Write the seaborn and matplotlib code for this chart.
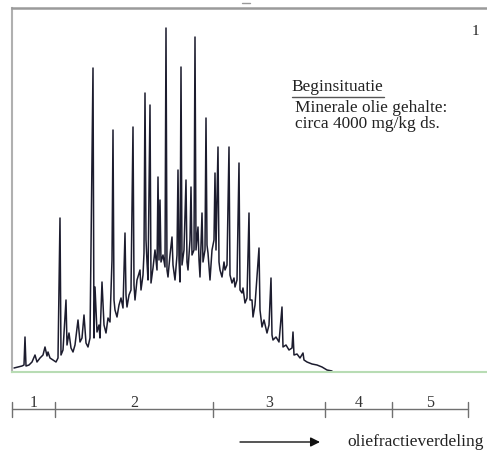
import matplotlib
matplotlib.use("Agg")
import matplotlib.pyplot as plt
from matplotlib.lines import Line2D
import seaborn as sns
import pandas as pd

# ---- data (retention position, detector signal) ----
retention = [14, 18, 22, 24, 25, 26, 29, 32, 35, 37, 40, 43, 45, 47, 48, 50, 53, 56, 58, 60,
             61, 63, 66, 67, 69, 71, 73, 75, 78, 80, 82, 84, 86, 88, 90, 93, 94, 95, 97, 99,
             100, 102, 104, 106, 108, 110, 112, 113, 114, 115, 117, 119, 121, 123, 125, 126, 127, 129, 131, 133,
             134, 135, 137, 140, 141, 143, 144, 145, 146, 147, 148, 150, 151, 153, 155, 157, 158, 159, 160, 161,
             163, 165, 166, 167, 168, 170, 172, 173, 175, 177, 178, 179, 180, 181, 182, 184, 186, 187, 188, 190,
             191, 192, 194, 195, 196, 198, 199, 200, 202, 203, 205, 206, 207, 208, 210, 212, 214, 215, 216, 218,
             219, 220, 222, 224, 225, 227, 229, 230, 232, 234, 235, 237, 239, 240, 242, 243, 245, 247, 249, 250,
             252, 253, 255, 258, 259, 260, 262, 264, 267, 269, 271, 272, 273, 276, 279, 282, 283, 286, 289, 292,
             293, 294, 297, 300, 303, 304, 307, 312, 317, 322, 327, 332]
signal = [3, 4, 5, 6, 34, 5, 6, 9, 16, 9, 13, 16, 24, 15, 19, 13, 11, 9, 13, 153,
          16, 21, 71, 26, 38, 23, 19, 26, 51, 29, 33, 56, 28, 24, 33, 303, 33, 84, 39, 46,
          33, 89, 46, 38, 53, 49, 111, 241, 71, 61, 54, 66, 73, 63, 138, 76, 64, 76, 81, 244,
          86, 71, 91, 101, 81, 96, 118, 278, 131, 109, 91, 266, 88, 103, 121, 101, 194, 111, 171, 109,
          116, 104, 343, 101, 94, 116, 134, 106, 91, 116, 201, 111, 89, 304, 106, 121, 191, 109, 101, 131,
          184, 116, 121, 334, 121, 144, 111, 94, 158, 109, 121, 253, 126, 118, 91, 121, 131, 198, 121, 224,
          109, 101, 94, 109, 101, 106, 224, 96, 88, 93, 84, 91, 208, 81, 78, 83, 68, 73, 158, 71,
          71, 54, 66, 108, 123, 61, 44, 51, 38, 46, 93, 36, 31, 34, 29, 64, 24, 26, 21, 23,
          39, 16, 17, 13, 18, 11, 9, 7, 6, 4, 1, 0]

fraction_labels = ["1", "2", "3", "4", "5"]
fraction_edges = [12, 55, 213, 325, 392, 468]

title_text = "Beginsituatie"
info_lines = ["Minerale olie gehalte:", "circa 4000 mg/kg ds."]
axis_text = "oliefractieverdeling"
corner_text = "1"

# ---- figure ----
sns.set_style("white")
plt.rcParams["font.family"] = ["Liberation Serif", "DejaVu Serif"]

W, H = 487, 451
fig = plt.figure(figsize=(W / 100, H / 100), dpi=100)
ax = fig.add_axes([12 / W, (H - 372) / H, (W - 12) / W, 364 / H])

df = pd.DataFrame({"ret": retention, "sig": signal})
sns.lineplot(data=df, x="ret", y="sig", ax=ax, sort=False, estimator=None,
             color="#1c1c2e", lw=1.1)

ax.set_xlim(12, 487)
ax.set_ylim(-1, 363)
ax.set_xticks([])
ax.set_yticks([])
ax.set_xlabel("")
ax.set_ylabel("")
ax.spines["right"].set_visible(False)
ax.spines["top"].set_color("#9a9a9a")
ax.spines["top"].set_linewidth(1.8)
ax.spines["left"].set_color("#b0b0b0")
ax.spines["left"].set_linewidth(1.5)
ax.spines["bottom"].set_color("#b8dcb4")
ax.spines["bottom"].set_linewidth(1.5)

# annotation texts
fs = 12.4
t = ax.text(0.589, 0.772, title_text, transform=ax.transAxes, fontsize=fs,
            ha="left", va="baseline", color="#222222")
ax.text(0.596, 0.714, info_lines[0], transform=ax.transAxes, fontsize=fs,
        ha="left", va="baseline", color="#222222")
ax.text(0.596, 0.671, info_lines[1], transform=ax.transAxes, fontsize=fs,
        ha="left", va="baseline", color="#222222")
ax.text(0.975, 0.926, corner_text, transform=ax.transAxes, fontsize=11,
        ha="center", va="baseline", color="#222222")

fig.canvas.draw()
bb = t.get_window_extent(fig.canvas.get_renderer()).transformed(ax.transAxes.inverted())
ax.add_line(Line2D([bb.x0, bb.x1], [0.755, 0.755], transform=ax.transAxes,
                   color="#555555", lw=1.0, clip_on=False))

# fraction scale below the chromatogram
trans = ax.get_xaxis_transform()
y_line = (372 - 409) / 364
y_t0 = (372 - 402) / 364
y_t1 = (372 - 417) / 364
ax.add_line(Line2D([fraction_edges[0], fraction_edges[-1]], [y_line, y_line],
                   transform=trans, color="#707070", lw=1.0, clip_on=False))
for e in fraction_edges:
    ax.add_line(Line2D([e, e], [y_t0, y_t1], transform=trans,
                       color="#707070", lw=1.0, clip_on=False))
y_lab = (372 - 407) / 364
for lab, a, b in zip(fraction_labels, fraction_edges[:-1], fraction_edges[1:]):
    ax.text((a + b) / 2, y_lab, lab, transform=trans, fontsize=11.5,
            ha="center", va="baseline", color="#333333", clip_on=False)

# arrow and axis description
y_arr = (372 - 442) / 364
ax.annotate("", xy=(320, y_arr), xytext=(240, y_arr), xycoords=trans, textcoords=trans,
            arrowprops=dict(arrowstyle="-|>", color="#111111", lw=1.0,
                            mutation_scale=14, shrinkA=0, shrinkB=0),
            annotation_clip=False)
ax.text(347, y_arr, axis_text, transform=trans, fontsize=12.5, ha="left",
        va="center", color="#222222", clip_on=False)

# small mark at the top edge
fig.add_artist(Line2D([242 / W, 250 / W], [1 - 3 / H, 1 - 3 / H], color="#999999", lw=1.0))

fig.savefig("out.png", dpi=100, facecolor="white")
